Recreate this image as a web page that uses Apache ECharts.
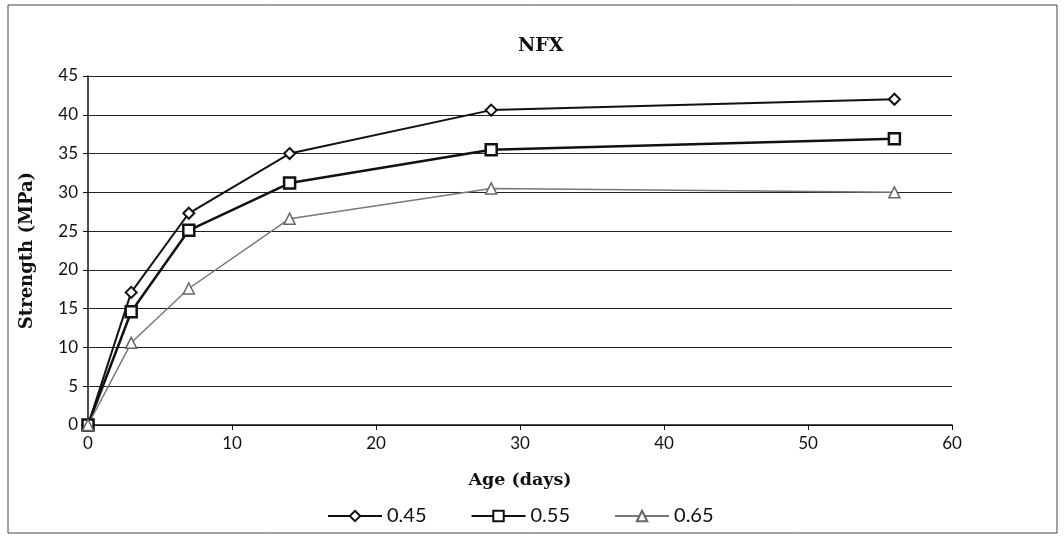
<!DOCTYPE html>
<html><head><meta charset="utf-8">
<script src="https://cdn.jsdelivr.net/npm/echarts@6/dist/echarts.min.js"></script>
<style>html,body{margin:0;padding:0;background:#fff}#c{width:1064px;height:539px}</style>
</head><body><div id="c"></div>
<script>
const ages = [0, 3, 7, 14, 28, 56];
const s045 = [0, 17.1, 27.3, 35.0, 40.6, 42.0];
const s055 = [0, 14.6, 25.1, 31.2, 35.5, 36.9];
const s065 = [0, 10.6, 17.6, 26.6, 30.5, 30.0];
const seriesNames = ['0.45', '0.55', '0.65'];
const yTicks = [0, 5, 10, 15, 20, 25, 30, 35, 40, 45];

const chart = echarts.init(document.getElementById('c'));
const pair = arr => ages.map((a, i) => [a, arr[i]]);
const serifBold = {fontFamily: 'DejaVu Serif', fontWeight: 'bold', color: '#111'};
chart.setOption({
  animation: false,
  backgroundColor: '#fff',
  title: {text: 'NFX', left: 513, top: 32, textStyle: Object.assign({fontSize: 19}, serifBold)},
  graphic: [{type: 'rect', shape: {x: 8, y: 5, width: 1049, height: 528}, style: {fill: 'none', stroke: '#444', lineWidth: 1}}],
  grid: {left: 88, right: 112, top: 76, bottom: 114},
  legend: {
    bottom: 8, left: 322, itemGap: 44, itemWidth: 54, itemHeight: 13,
    textStyle: {fontFamily: 'Lato', fontSize: 20, color: '#111'},
    data: seriesNames
  },
  xAxis: {
    type: 'value', min: 0, max: 60, interval: 10,
    name: 'Age (days)', nameLocation: 'middle', nameGap: 46,
    nameTextStyle: Object.assign({fontSize: 17.5}, serifBold),
    axisLine: {show: true, lineStyle: {color: '#111', width: 1.5}},
    axisTick: {show: true, length: 5, lineStyle: {color: '#111'}},
    axisLabel: {fontFamily: 'Lato', fontSize: 17, color: '#111', margin: 10},
    splitLine: {show: false}
  },
  yAxis: {
    type: 'value', min: 0, max: 45, interval: 5,
    name: 'Strength (MPa)', nameLocation: 'middle', nameGap: 52, nameRotate: 90,
    nameTextStyle: Object.assign({fontSize: 18}, serifBold),
    axisLine: {show: true, lineStyle: {color: '#111', width: 1.5}},
    axisTick: {show: true, length: 5, lineStyle: {color: '#111'}},
    axisLabel: {fontFamily: 'Lato', fontSize: 17, color: '#111', margin: 10,
      formatter: v => yTicks.includes(v) ? String(v) : ''},
    splitLine: {show: true, lineStyle: {color: '#222', width: 1.2}}
  },
  series: [
    {name: seriesNames[0], type: 'line', data: pair(s045), smooth: false,
     symbol: 'diamond', symbolSize: 11,
     lineStyle: {color: '#111', width: 2},
     itemStyle: {color: '#fff', borderColor: '#111', borderWidth: 2}},
    {name: seriesNames[1], type: 'line', data: pair(s055),
     symbol: 'rect', symbolSize: 11,
     lineStyle: {color: '#111', width: 2.5},
     itemStyle: {color: '#fff', borderColor: '#111', borderWidth: 2.5}},
    {name: seriesNames[2], type: 'line', data: pair(s065),
     symbol: 'triangle', symbolSize: 11,
     lineStyle: {color: '#777', width: 1.5},
     itemStyle: {color: '#fff', borderColor: '#666', borderWidth: 1.5}}
  ]
});
</script></body></html>
